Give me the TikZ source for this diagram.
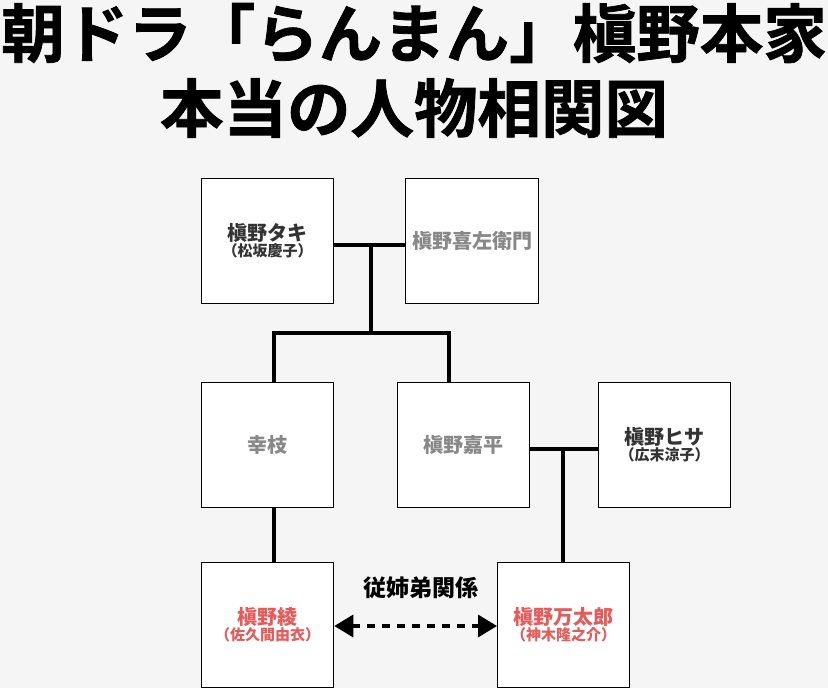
\documentclass[tikz,border=0pt]{standalone}
\usepackage{fontspec}
\usetikzlibrary{arrows.meta}
\newfontfamily\jp{Noto Sans CJK JP}
\newfontfamily\jptitle{Noto Sans CJK JP}[UprightFont={* Bold},FakeBold=1.2]
\definecolor{bgc}{HTML}{F5F5F5}
\definecolor{darkt}{HTML}{333333}
\definecolor{grayt}{HTML}{888888}
\definecolor{redt}{HTML}{E65A5A}
\tikzset{
  person/.style={draw=black, fill=white, line width=1.3pt, minimum width=132pt, minimum height=125pt, inner sep=0pt, anchor=north west, align=center},
  link/.style={line width=3.5pt, line cap=butt},
  cousin/.style={line width=3.5pt, dash pattern=on 8pt off 7pt, {Triangle[width=22pt,length=19pt]}-{Triangle[width=22pt,length=19pt]}},
}
\newcommand{\nm}[1]{{\fontsize{20}{22}\selectfont #1}}
\newcommand{\sbn}[1]{{\fontsize{15}{17}\selectfont #1}}
\begin{document}
\begin{tikzpicture}[x=1pt,y=-1pt]
\fill[bgc] (0,0) rectangle (828,688);
\useasboundingbox (0,0) rectangle (828,688);
\node[font=\jptitle\fontsize{63.5}{70}\selectfont, inner sep=0pt] (t1) at (414,33) {朝ドラ「らんまん」槇野本家};
\node[font=\jptitle\fontsize{63.5}{70}\selectfont, inner sep=0pt] (t2) at (414,108) {本当の人物相関図};

\node[person, text=darkt, font=\jp\bfseries] (taki) at (201,178) {\nm{槇野タキ}\\[0pt]\sbn{（松坂慶子）}};
\node[person, minimum width=133pt, text=grayt, font=\jp\bfseries] (kiza) at (405,178) {\nm{槇野喜左衛門}};
\node[person, text=grayt, font=\jp\bfseries] (yukie) at (201,382) {\nm{幸枝}};
\node[person, text=grayt, font=\jp\bfseries] (kahei) at (397,382) {\nm{槇野嘉平}};
\node[person, text=darkt, font=\jp\bfseries] (hisa) at (598,382) {\nm{槇野ヒサ}\\[0pt]\sbn{（広末涼子）}};
\node[person, text=redt, font=\jp\bfseries] (aya) at (201,562) {\nm{槇野綾}\\[0pt]\sbn{（佐久間由衣）}};
\node[person, text=redt, font=\jp\bfseries] (man) at (497,562) {\nm{槇野万太郎}\\[0pt]\sbn{（神木隆之介）}};

\coordinate (cp1) at (371,245);
\coordinate (jY) at (274,333);
\coordinate (jK) at (449,333);
\coordinate (cp2) at (563,449);
\coordinate (arr) at (414,626);

\draw[link] (taki.east |- cp1) -- (kiza.west |- cp1);
\draw[link] (cp1) -- (cp1 |- jY);
\draw[link, line cap=rect] (jY) -- (jK);
\draw[link] (jY) -- (jY |- yukie.north);
\draw[link] (jK) -- (jK |- kahei.north);
\draw[link] (jY |- yukie.south) -- (jY |- aya.north);
\draw[link] (kahei.east |- cp2) -- (hisa.west |- cp2);
\draw[link] (cp2) -- (cp2 |- man.north);

\draw[cousin] (aya.east |- arr) -- (man.west |- arr);
\node[font=\jp\bfseries\fontsize{23}{25}\selectfont, text=black, inner sep=0pt] (rel) at (421,588) {従姉弟関係};
\end{tikzpicture}
\end{document}
